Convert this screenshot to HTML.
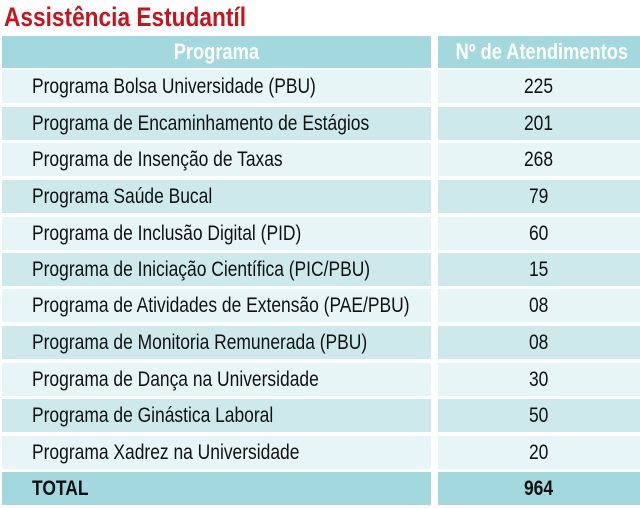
<!DOCTYPE html>
<html><head><meta charset="utf-8"><style>
body{margin:0;width:640px;height:508px;background:#fff;overflow:hidden;position:relative;font-family:"Liberation Sans",sans-serif;}
.t{position:absolute;left:4px;top:2px;font-size:27px;font-weight:bold;color:#c4161c;white-space:nowrap;transform:scaleX(0.84);transform-origin:left center;}
.c{position:absolute;height:33px;line-height:34px;font-size:21px;color:#111;white-space:nowrap;overflow:hidden;}
.c span{display:inline-block;transform:scaleX(0.83);}
.l{left:2px;width:429px;padding-left:30px;box-sizing:border-box;}
.l span{transform-origin:left center;}
.r{left:438px;width:202px;text-align:center;}
.r span,.h span{transform-origin:center center;}
.h{background:#a3d8de;color:#fff;font-weight:bold;font-size:22px;text-align:center;padding-left:0;}
.a{background:#e8f5f6;}
.b{background:#cde9ec;}
.tt{background:#a3d8de;font-weight:bold;}
</style></head><body>
<div class="t">Assistência Estudantíl</div>
<div class="c l h" style="top:36px;height:32px;line-height:32px"><span>Programa</span></div>
<div class="c r h" style="top:36px;height:32px;line-height:32px"><span>Nº de Atendimentos</span></div>

<div class="c l a" style="top:70px"><span>Programa Bolsa Universidade (PBU)</span></div><div class="c r a" style="top:70px"><span>225</span></div>
<div class="c l b" style="top:107px"><span>Programa de Encaminhamento de Estágios</span></div><div class="c r b" style="top:107px"><span>201</span></div>
<div class="c l a" style="top:143px"><span>Programa de Insenção de Taxas</span></div><div class="c r a" style="top:143px"><span>268</span></div>
<div class="c l b" style="top:180px"><span>Programa Saúde Bucal</span></div><div class="c r b" style="top:180px"><span>79</span></div>
<div class="c l a" style="top:217px"><span>Programa de Inclusão Digital (PID)</span></div><div class="c r a" style="top:217px"><span>60</span></div>
<div class="c l b" style="top:253px"><span>Programa de Iniciação Científica (PIC/PBU)</span></div><div class="c r b" style="top:253px"><span>15</span></div>
<div class="c l a" style="top:289px"><span>Programa de Atividades de Extensão (PAE/PBU)</span></div><div class="c r a" style="top:289px"><span>08</span></div>
<div class="c l b" style="top:326px"><span>Programa de Monitoria Remunerada (PBU)</span></div><div class="c r b" style="top:326px"><span>08</span></div>
<div class="c l a" style="top:363px"><span>Programa de Dança na Universidade</span></div><div class="c r a" style="top:363px"><span>30</span></div>
<div class="c l b" style="top:399px"><span>Programa de Ginástica Laboral</span></div><div class="c r b" style="top:399px"><span>50</span></div>
<div class="c l a" style="top:436px"><span>Programa Xadrez na Universidade</span></div><div class="c r a" style="top:436px"><span>20</span></div>
<div class="c l tt" style="top:472px"><span>TOTAL</span></div><div class="c r tt" style="top:472px"><span>964</span></div>
</body></html>
